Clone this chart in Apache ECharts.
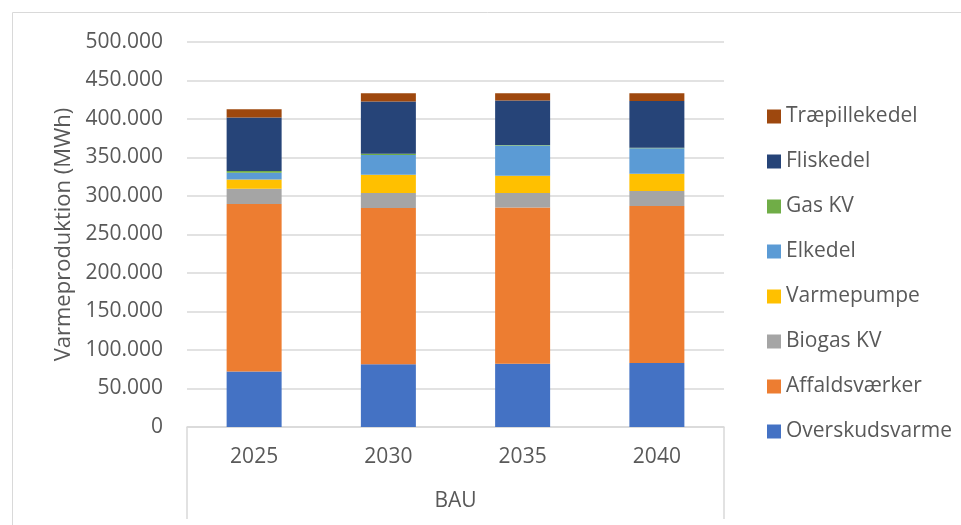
<!DOCTYPE html>
<html>
<head>
<meta charset="utf-8">
<script src="https://cdn.jsdelivr.net/npm/echarts@6/dist/echarts.min.js"></script>
<style>
    html, body { margin: 0; padding: 0; background: #fff; }
    #main { width: 961px; height: 525px; }
</style>
</head>
<body>
<div id="main"></div>
<script>
    // data (MWh)
    var years = ['2025', '2030', '2035', '2040'];
    var group = ['BAU'];
    var overskudsvarme = [72000, 81500, 82000, 83000];
    var affaldsvaerker = [217500, 203000, 203000, 204000];
    var biogasKV = [19800, 19400, 19000, 19400];
    var varmepumpe = [12000, 23700, 22400, 22400];
    var elkedel = [9000, 25500, 39300, 33300];
    var gasKV = [2300, 1700, 500, 500];
    var fliskedel = [69500, 67800, 57800, 60800];
    var traepillekedel = [10500, 10800, 9500, 9900];

    var names = ['Overskudsvarme', 'Affaldsværker', 'Biogas KV', 'Varmepumpe', 'Elkedel', 'Gas KV', 'Fliskedel', 'Træpillekedel'];
    var colors = ['#4472C4', '#ED7D31', '#A5A5A5', '#FFC000', '#5B9BD5', '#70AD47', '#264478', '#9E480E'];
    var values = [overskudsvarme, affaldsvaerker, biogasKV, varmepumpe, elkedel, gasKV, fliskedel, traepillekedel];

    var font = 'Open Sans';
    var textColor = '#595959';
    var lineColor = '#D9D9D9';

    var series = names.map(function (n, i) {
        return {
            name: n,
            type: 'bar',
            stack: 'total',
            barWidth: 55,
            data: values[i],
            itemStyle: { color: colors[i] }
        };
    });

    var chart = echarts.init(document.getElementById('main'));
    chart.setOption({
        animation: false,
        color: colors,
        textStyle: { fontFamily: font },
        grid: { left: 187, right: 237, top: 42, bottom: 98 },
        graphic: [{
            type: 'rect',
            shape: { x: 12.5, y: 12.5, width: 1000, height: 1000 },
            style: { fill: 'none', stroke: lineColor, lineWidth: 1 },
            silent: true
        }],
        legend: {
            orient: 'vertical',
            left: 762,
            top: 101,
            itemWidth: 14,
            itemHeight: 14,
            itemGap: 24,
            icon: 'rect',
            data: names.slice().reverse(),
            textStyle: { fontFamily: font, fontSize: 21, color: textColor }
        },
        xAxis: [{
            type: 'category',
            data: years,
            axisLine: { lineStyle: { color: lineColor, width: 1.5 } },
            axisTick: { show: false },
            axisLabel: { margin: 20, fontSize: 21, color: textColor, fontFamily: font }
        }, {
            type: 'category',
            data: group,
            position: 'bottom',
            axisLine: { show: false },
            axisTick: { show: true, length: 92, lineStyle: { color: lineColor, width: 1.5 } },
            axisLabel: { margin: 64, fontSize: 21, color: textColor, fontFamily: font }
        }],
        yAxis: {
            type: 'value',
            min: 0,
            max: 500000,
            interval: 50000,
            name: 'Varmeproduktion (MWh)',
            nameLocation: 'middle',
            nameGap: 111,
            nameTextStyle: { fontSize: 22, color: textColor, fontFamily: font },
            axisLine: { show: false },
            axisTick: { show: false },
            splitLine: { lineStyle: { color: lineColor, width: 1.5 } },
            axisLabel: {
                margin: 24,
                fontSize: 21,
                color: textColor,
                fontFamily: font,
                formatter: function (v) {
                    return String(v).replace(/\B(?=(\d{3})+(?!\d))/g, '.');
                }
            }
        },
        series: series
    });
</script>
</body>
</html>
